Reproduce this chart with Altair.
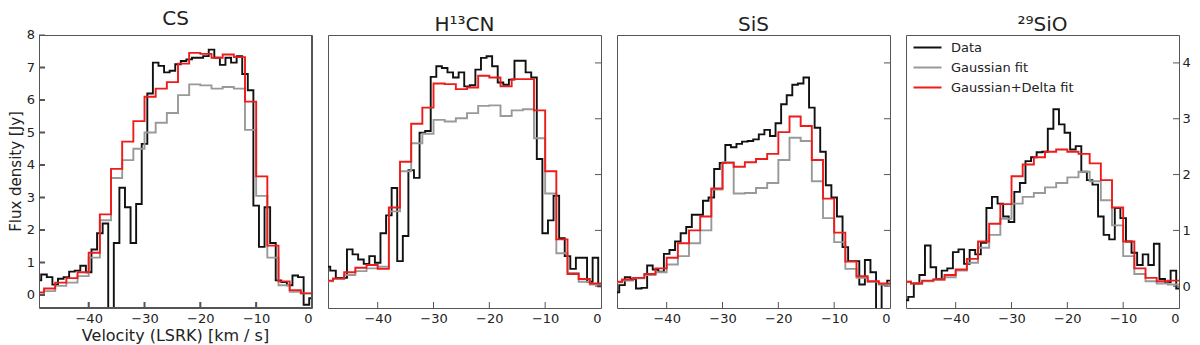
import altair as alt
import pandas as pd

# ---------------- data ----------------
titles = ["CS", "H¹³CN", "SiS", "²⁹SiO"]
x_title = "Velocity (LSRK) [km / s]"
y_title = "Flux density [Jy]"
series_names = ["Data", "Gaussian fit", "Gaussian+Delta fit"]
series_colors = ["#111111", "#999999", "#ee1b1b"]

# observed spectra: 1 km/s channels centred on -49 ... 0
data_centres = list(range(-49, 1))
# fits: 2 km/s bins, left edges -50 ... -2
fit_left = list(range(-50, 0, 2))

cs_data = [0.45, 0.63, 0.55, 0.32, 0.5, 0.55, 0.72, 0.75, 0.9, 0.7,
           1.4, 1.9, 2.2, -1.5, 1.6, 3.3, 2.7, 1.6, 2.8, 4.65,
           6.2, 7.15, 7.05, 6.85, 6.9, 7.1, 7.2, 7.25, 7.3, 7.3,
           7.35, 7.55, 7.3, 7.08, 7.3, 7.15, 7.35, 6.8, 6.3, 2.75,
           1.48, 2.7, 1.6, 0.45, 0.4, 0.3, 0.6, 0.55, -0.3, -0.1]
cs_gauss = [0.02, 0.12, 0.28, 0.38, 0.58, 1.15, 2.3, 3.6, 4.15, 4.5,
            5.0, 5.3, 5.6, 6.15, 6.48, 6.45, 6.35, 6.4, 6.35, 5.08,
            3.05, 1.15, 0.3, 0.1, 0.05]
cs_delta = [0.08, 0.2, 0.38, 0.52, 0.7, 1.3, 2.48, 3.88, 4.72, 5.35,
            6.1, 6.35, 6.55, 7.12, 7.45, 7.42, 7.3, 7.4, 7.32, 5.95,
            3.65, 1.52, 0.42, 0.15, 0.05]

hcn_data = [0.35, 0.28, 0.15, 0.15, 0.66, 0.57, 0.48, 0.4, 0.54, 0.42,
            0.95, 1.27, 1.76, 0.45, 0.9, 2.08, 1.94, 2.75, 2.78, 3.75,
            3.94, 3.91, 3.83, 3.74, 3.83, 3.58, 3.6, 3.88, 4.09, 4.12,
            3.94, 3.65, 3.61, 3.7, 4.04, 4.04, 3.83, 3.74, 2.28, 0.95,
            1.18, 1.62, 0.86, 0.54, 0.31, 0.51, 0.51, 0.08, 0.51, 0.0]
hcn_gauss = [0.09, 0.13, 0.2, 0.27, 0.32, 0.35, 1.34, 2.06, 2.56, 2.73,
             2.98, 2.95, 3.01, 3.1, 3.23, 3.24, 3.05, 3.15, 3.17, 2.65,
             1.66, 0.59, 0.24, 0.08, 0.03]
hcn_delta = [0.1, 0.14, 0.25, 0.33, 0.38, 0.31, 1.41, 2.23, 2.91, 3.2,
             3.63, 3.62, 3.53, 3.56, 3.77, 3.74, 3.58, 3.71, 3.71, 3.15,
             2.06, 0.84, 0.22, 0.13, 0.05]

sis_data = [-0.11, 0.02, 0.16, 0.13, -0.04, -0.03, 0.37, 0.3, 0.26, 0.58,
            0.65, 0.8, 0.95, 1.06, 1.28, 1.28, 1.53, 1.59, 2.1, 2.21,
            2.53, 2.49, 2.55, 2.59, 2.6, 2.63, 2.72, 2.8, 2.69, 2.92,
            3.26, 3.42, 3.61, 3.63, 3.74, 3.2, 2.84, 2.41, 1.81, 1.59,
            1.25, 0.7, 0.45, 0.45, 0.03, 0.47, 0.25, -1.0, 0.03, 0.1]
sis_gauss = [0.07, 0.1, 0.14, 0.2, 0.25, 0.39, 0.54, 0.77, 1.0, 1.73,
             2.22, 1.66, 1.67, 1.76, 1.85, 2.26, 2.66, 2.6, 1.88, 1.22,
             0.79, 0.31, 0.15, 0.08, 0.03]
sis_delta = [0.08, 0.12, 0.15, 0.22, 0.32, 0.51, 0.77, 1.0, 1.25, 1.75,
             2.21, 2.14, 2.22, 2.28, 2.37, 2.76, 3.04, 2.87, 2.26, 1.57,
             0.96, 0.44, 0.18, 0.09, 0.05]

sio_data = [-0.25, -0.19, 0.05, 0.2, 0.73, 0.34, 0.13, 0.28, 0.32, 0.61,
            0.66, 0.4, 0.65, 0.57, 0.78, 1.4, 1.6, 1.48, 1.25, 1.15,
            1.69, 1.85, 2.24, 2.31, 2.4, 2.41, 2.82, 3.17, 2.9, 2.75,
            2.45, 2.51, 2.05, 1.9, 1.82, 1.25, 0.92, 0.84, 1.4, 1.22,
            0.8, 0.6, 0.38, 0.57, 0.38, 0.76, 0.13, 0.07, 0.28, -0.04]
sio_gauss = [0.08, 0.05, 0.09, 0.12, 0.16, 0.28, 0.42, 0.69, 0.92, 1.21,
             1.48, 1.6, 1.67, 1.77, 1.85, 1.95, 2.05, 1.88, 1.54, 1.09,
             0.54, 0.22, 0.09, 0.05, 0.03]
sio_delta = [0.08, 0.05, 0.1, 0.12, 0.2, 0.3, 0.49, 0.8, 1.12, 1.47,
             1.97, 2.18, 2.31, 2.41, 2.45, 2.41, 2.37, 2.2, 1.9, 1.41,
             0.8, 0.32, 0.15, 0.09, 0.1]

x_ticks = [-40, -30, -20, -10, 0]
x_tick_marks = [-40, -30, -20, -10]
y_ticks_cs = [0, 1, 2, 3, 4, 5, 6, 7, 8]
y_ticks_other = [0, 1, 2, 3, 4]

# ---------------- layout / style ----------------
W, H = 273, 273
XDOM = [-48.9, 0]
YDOM_CS = [-0.4, 8.0]
YDOM_OTHER = [-0.39, 4.5]
FRAME = "#555555"
TEXT = "#222222"
TICK = 6


def step_df(left_edges, width, values, name):
    xs = list(left_edges) + [left_edges[-1] + width]
    ys = list(values) + [values[-1]]
    return pd.DataFrame({"v": xs, "flux": ys, "series": name,
                         "order": list(range(len(xs)))})


def panel(idx, data, gauss, delta, ydom, yticks):
    xscale = alt.Scale(domain=XDOM, nice=False, zero=False)
    yscale = alt.Scale(domain=ydom, nice=False, zero=False)

    xaxis = alt.Axis(values=x_ticks, format="d", ticks=False, domain=False,
                     grid=False, labelFontSize=13, labelPadding=4,
                     labelColor=TEXT, title=None)
    if idx == 3:
        yaxis = alt.Axis(values=yticks, format="d", orient="right", ticks=False,
                         domain=False, grid=False, labelFontSize=13,
                         labelPadding=3, labelColor=TEXT, title=None)
    else:
        yaxis = None

    if idx == 3:
        legend = alt.Legend(orient="none", legendX=15, legendY=6, title=None,
                            symbolType="M-4,0L4,0", symbolSize=49,
                            symbolStrokeWidth=2, labelFontSize=13,
                            labelOffset=17, rowPadding=6, labelColor=TEXT)
    else:
        legend = None

    color = alt.Color("series:N",
                      scale=alt.Scale(domain=series_names, range=series_colors),
                      legend=legend)

    def line(df, with_axes):
        return alt.Chart(df).mark_line(interpolate="step-after", clip=True,
                                       strokeWidth=1.9).encode(
            x=alt.X("v:Q", scale=xscale, axis=xaxis if with_axes else None),
            y=alt.Y("flux:Q", scale=yscale, axis=yaxis if with_axes else None),
            color=color,
            order="order:Q",
        )

    black = line(step_df([c - 0.5 for c in data_centres], 1, data, "Data"), True)
    gray = line(step_df(fit_left, 2, gauss, "Gaussian fit"), False)
    red = line(step_df(fit_left, 2, delta, "Gaussian+Delta fit"), False)

    # inward tick marks
    ydf = pd.DataFrame({"flux": yticks, "lab": [str(t) for t in yticks]})
    if idx == 0:
        yt = alt.Chart(ydf).mark_rule(color=FRAME, strokeWidth=1).encode(
            y=alt.Y("flux:Q", scale=yscale, axis=None),
            x=alt.value(0), x2=alt.value(TICK))
    else:
        yt = alt.Chart(ydf).mark_rule(color=FRAME, strokeWidth=1).encode(
            y=alt.Y("flux:Q", scale=yscale, axis=None),
            x=alt.value(W - TICK), x2=alt.value(W))
    xdf = pd.DataFrame({"v": x_tick_marks})
    xt = alt.Chart(xdf).mark_rule(color=FRAME, strokeWidth=1).encode(
        x=alt.X("v:Q", scale=xscale, axis=None),
        y=alt.value(H), y2=alt.value(H - TICK))

    layers = [black, gray, red, yt, xt]

    if idx == 0:
        # frame and inward ticks of the first panel drawn as line paths
        dx = TICK * (XDOM[1] - XDOM[0]) / W
        dy = TICK * (ydom[1] - ydom[0]) / H
        seg_v, seg_f, seg_id, seg_o = [], [], [], []
        corners_v = [XDOM[0], XDOM[1], XDOM[1], XDOM[0], XDOM[0]]
        corners_f = [ydom[0], ydom[0], ydom[1], ydom[1], ydom[0]]
        for k in range(5):
            seg_v.append(corners_v[k]); seg_f.append(corners_f[k])
            seg_id.append("frame"); seg_o.append(k)
        for t in yticks:
            seg_v += [XDOM[0], XDOM[0] + dx]; seg_f += [t, t]
            seg_id += ["y%s" % t] * 2; seg_o += [0, 1]
        for t in x_tick_marks:
            seg_v += [t, t]; seg_f += [ydom[0], ydom[0] + dy]
            seg_id += ["x%s" % t] * 2; seg_o += [0, 1]
        seg_df = pd.DataFrame({"v": seg_v, "flux": seg_f, "seg": seg_id,
                               "order": seg_o})
        framelines = alt.Chart(seg_df).mark_line(
            color=FRAME, strokeWidth=2, clip=True
        ).encode(
            x=alt.X("v:Q", scale=xscale, axis=None),
            y=alt.Y("flux:Q", scale=yscale, axis=None),
            detail="seg:N",
            order="order:Q",
        )
        # left tick labels and axis titles as text
        ylabels = alt.Chart(ydf).mark_text(
            fontSize=13, color=TEXT, align="right", baseline="middle", dx=-4
        ).encode(text="lab:N", x=alt.value(0),
                 y=alt.Y("flux:Q", scale=yscale, axis=None))
        xt_df = pd.DataFrame({"label": [x_title]})
        xtitle = alt.Chart(xt_df).mark_text(
            fontSize=16, color=TEXT, align="center", baseline="middle"
        ).encode(text="label:N", x=alt.value(W / 2), y=alt.value(H + 28))
        yt_df = pd.DataFrame({"label": [y_title]})
        ytitle = alt.Chart(yt_df).mark_text(
            fontSize=15, color=TEXT, align="center", baseline="middle", angle=270
        ).encode(text="label:N", x=alt.value(-23), y=alt.value(H / 2))
        layers += [framelines, ylabels, xtitle, ytitle]

    return alt.layer(*layers).resolve_axis(
        x="independent", y="independent"
    ).properties(
        width=W, height=H,
        title=alt.TitleParams(titles[idx], fontSize=20, fontWeight="normal",
                              offset=0, color=TEXT),
    )


panels = [
    panel(0, cs_data, cs_gauss, cs_delta, YDOM_CS, y_ticks_cs),
    panel(1, hcn_data, hcn_gauss, hcn_delta, YDOM_OTHER, y_ticks_other),
    panel(2, sis_data, sis_gauss, sis_delta, YDOM_OTHER, y_ticks_other),
    panel(3, sio_data, sio_gauss, sio_delta, YDOM_OTHER, y_ticks_other),
]

chart = alt.hconcat(*panels, spacing=16, bounds="flush").resolve_scale(
    color="independent"
).properties(
    padding={"left": 0, "top": 0, "right": 0, "bottom": 0}
).configure(
    font="DejaVu Sans"
).configure_view(
    stroke=FRAME, strokeWidth=1
)

chart.save("out.html", embed_options={"renderer": "svg", "actions": False})
